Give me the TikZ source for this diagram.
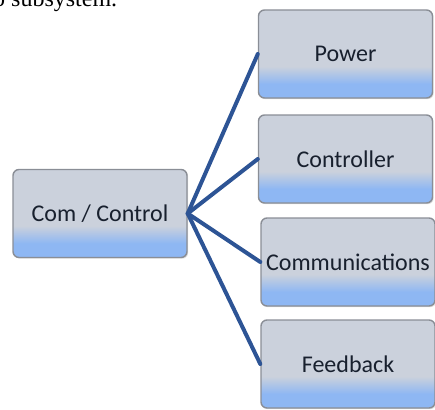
\documentclass[tikz,border=0pt]{standalone}
\usepackage{fontspec}
\setmainfont{Carlito}
\newfontfamily\serifcap{Liberation Serif}
\usetikzlibrary{shadows}
\definecolor{boxgray}{HTML}{CBD1DC}
\definecolor{boxblue}{HTML}{8EB7F3}
\definecolor{boxedge}{HTML}{8A8E96}
\definecolor{linkblue}{HTML}{2D5495}
\definecolor{labelink}{HTML}{18202E}
% bottom band of blue fading up into grey (path spans 25bp..75bp)
\pgfdeclareverticalshading{boxfill}{100bp}{color(0bp)=(boxblue); color(33bp)=(boxblue); color(43bp)=(boxgray); color(100bp)=(boxgray)}
\tikzset{
  unit/.style={draw=boxedge, line width=1.4pt, rounded corners=6pt,
    shading=boxfill, minimum width=174pt, minimum height=88pt,
    inner sep=0pt, font=\fontsize{24}{27}\selectfont, text=labelink,
    drop shadow={shadow xshift=1.2pt, shadow yshift=-1.2pt, opacity=0.25}},
  link/.style={draw=linkblue, line width=4pt, line cap=round}
}
\begin{document}
\begin{tikzpicture}[x=1pt, y=-1pt]
  \useasboundingbox (0,0) rectangle (435,409);
  \clip (0,0) rectangle (435,409);
  % caption line running in from the text above
  \node[anchor=base west, inner sep=0pt, font=\serifcap\fontsize{24}{26}\selectfont, text=black]
    (caption) at (-7,7) {o subsystem.};
  % branch boxes
  \node[unit] (cc) at (100,213.5) {Com / Control};
  \node[unit] (pw) at (345.5,54) {Power};
  \node[unit] (ct) at (345.5,159) {Controller};
  \node[unit] (cm) at (348,262) {Communications};
  \node[unit] (fb) at (348,364) {Feedback};
  % connectors from the hub
  \draw[link] (cc.east) -- (pw.west);
  \draw[link] (cc.east) -- (ct.west);
  \draw[link] (cc.east) -- (cm.west);
  \draw[link] (cc.east) -- (fb.west);
\end{tikzpicture}
\end{document}
